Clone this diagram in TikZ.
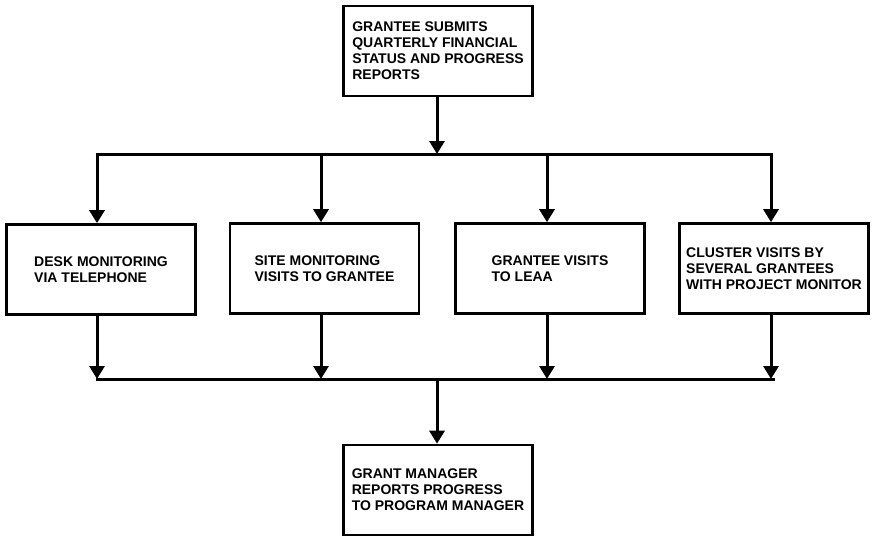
\documentclass[tikz,border=0pt]{standalone}
\usepackage{fontspec}
\setmainfont{Liberation Sans}
\usetikzlibrary{arrows.meta}
\begin{document}
\begin{tikzpicture}[x=1pt,y=-1pt,
  box/.style={draw, line width=2.6pt, minimum width=189pt, minimum height=90pt,
    align=left, inner sep=0pt, font=\bfseries\fontsize{14}{16}\selectfont},
  flow/.style={line width=3pt, -{Triangle[width=15pt,length=13pt]}},
  bus/.style={line width=3pt}]
\useasboundingbox (0,0) rectangle (873,538);
\node[box] (top) at (438,51) {GRANTEE SUBMITS\\QUARTERLY FINANCIAL\\STATUS AND PROGRESS\\REPORTS};
\node[box] (b1) at (101,269.5) {DESK MONITORING\\VIA TELEPHONE};
\node[box] (b2) at (324.5,268.5) {SITE MONITORING\\VISITS TO GRANTEE};
\node[box] (b3) at (550,268.5) {GRANTEE VISITS\\TO LEAA};
\node[box] (b4) at (774,268.5) {CLUSTER VISITS BY\\SEVERAL GRANTEES\\WITH PROJECT MONITOR};
\node[box] (bot) at (438,490) {GRANT MANAGER\\REPORTS PROGRESS\\TO PROGRAM MANAGER};
% top bus
\coordinate (t1) at (97,154);
\coordinate (t2) at (321,154);
\coordinate (tm) at (437,154);
\coordinate (t3) at (547,154);
\coordinate (t4) at (771,154);
% bottom bus
\coordinate (d1) at (97,379);
\coordinate (d2) at (321,379);
\coordinate (dm) at (437,379);
\coordinate (d3) at (547,379);
\coordinate (d4) at (771,379);
\coordinate (dend) at (775,379);
\draw[bus] ([xshift=-1.5pt]t1) -- ([xshift=1.5pt]t4);
\draw[bus] ([xshift=-1.5pt]d1) -- (dend);
\draw[flow] (tm |- top.south) -- (tm);
\draw[flow] (t1) -- (t1 |- b1.north);
\draw[flow] (t2) -- (t2 |- b2.north);
\draw[flow] (t3) -- (t3 |- b3.north);
\draw[flow] (t4) -- (t4 |- b4.north);
\draw[flow] (d1 |- b1.south) -- (d1);
\draw[flow] (d2 |- b2.south) -- (d2);
\draw[flow] (d3 |- b3.south) -- (d3);
\draw[flow] (d4 |- b4.south) -- (d4);
\draw[flow] (dm) -- (dm |- bot.north);
\end{tikzpicture}
\end{document}
